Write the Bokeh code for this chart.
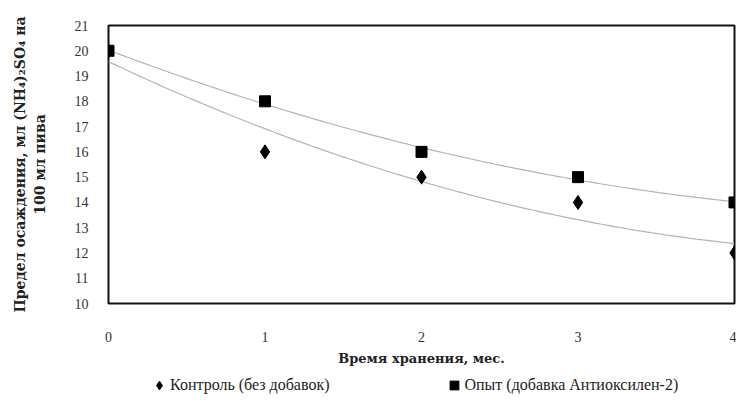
import numpy as np
from bokeh.plotting import figure
from bokeh.layouts import column
from bokeh.models import Range1d, FixedTicker, Legend, LegendItem
from bokeh.embed import file_html
from bokeh.resources import INLINE

months = [0, 1, 2, 3, 4]
control = [20, 16, 15, 14, 12]
experiment = [20, 18, 16, 15, 14]
y_ticks = list(range(10, 22))
x_ticks = [0, 1, 2, 3, 4]
control_name = "Контроль (без добавок)"
experiment_name = "Опыт (добавка Антиоксилен-2)"

FONT = "Liberation Serif"
WFONT = "DejaVu Serif"

p = figure(width=736, height=368, output_backend="svg", toolbar_location=None,
           x_range=Range1d(0, 4), y_range=Range1d(10, 21),
           min_border_left=108, min_border_right=2, min_border_top=25, min_border_bottom=65)
p.grid.visible = False
p.outline_line_color = "#111111"
p.outline_line_width = 2
p.background_fill_color = "white"
p.border_fill_color = "white"

# trend lines (2nd order polynomial fits of the data)
xs = np.linspace(months[0], months[-1], 100)
for ser in (control, experiment):
    c = np.polyfit(months, ser, 2)
    p.line(xs, np.polyval(c, xs), line_color="#b4b4b4", line_width=1.2)

p.scatter(months, control, marker="diamond", size=14, fill_color="black", line_color="black")
p.scatter(months, experiment, marker="square", size=11, fill_color="black", line_color="black")

for ax in (p.xaxis[0], p.yaxis[0]):
    ax.axis_line_color = None
    ax.major_tick_line_color = None
    ax.minor_tick_line_color = None
    ax.major_label_text_font = FONT
    ax.major_label_text_font_size = "14px"
    ax.major_label_text_color = "#333333"
    ax.axis_label_text_font = WFONT
    ax.axis_label_text_font_style = "bold"
    ax.axis_label_text_color = "#222222"

p.xaxis.axis_label_text_font_size = "13px"
p.yaxis.axis_label_text_font_size = "14px"
p.xaxis.ticker = FixedTicker(ticks=x_ticks)
p.yaxis.ticker = FixedTicker(ticks=y_ticks)
p.xaxis.major_label_standoff = 22
p.yaxis.major_label_standoff = 14
p.xaxis.axis_label = "Время хранения, мес."
p.xaxis.axis_label_standoff = 6
p.yaxis.axis_label = "Предел осаждения, мл (NH\u2084)\u2082SO\u2084 на\n100 мл пива"
p.yaxis.axis_label_standoff = 24

# legend strip below the chart (proxy renderers with no visible points)
q = figure(width=736, height=40, output_backend="svg", toolbar_location=None,
           x_range=Range1d(0, 1), y_range=Range1d(0, 1),
           min_border_left=0, min_border_right=0, min_border_top=0, min_border_bottom=0)
q.axis.visible = False
q.grid.visible = False
q.outline_line_color = None
l1 = q.scatter([np.nan], [np.nan], marker="diamond", size=12, fill_color="black", line_color="black")
l2 = q.scatter([np.nan], [np.nan], marker="square", size=10, fill_color="black", line_color="black")
legend = Legend(items=[LegendItem(label=control_name, renderers=[l1]),
                       LegendItem(label=experiment_name, renderers=[l2])],
                orientation="horizontal", location=(40, 12),
                label_text_font=FONT, label_text_font_size="16px",
                label_text_color="#222222", spacing=113, glyph_width=22, glyph_height=22,
                label_standoff=0, border_line_color=None, background_fill_alpha=0,
                padding=2, margin=0)
q.add_layout(legend)

layout = column(p, q, spacing=0)
open("out.html", "w").write(file_html(layout, INLINE))
